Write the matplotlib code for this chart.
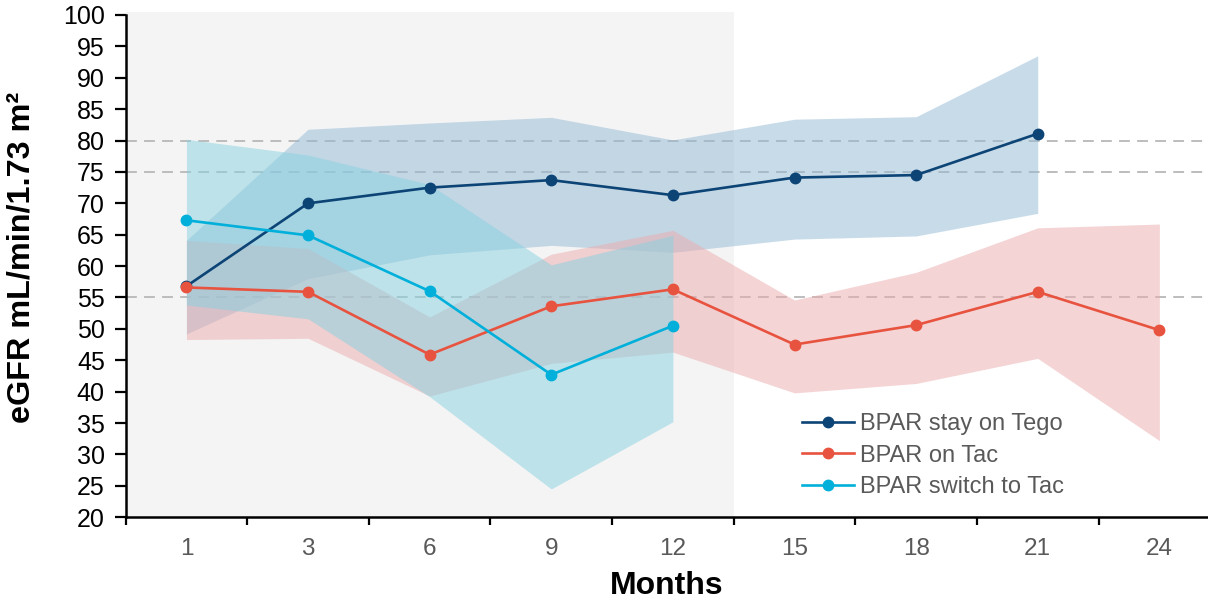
import numpy as np
import matplotlib
matplotlib.use("Agg")
import matplotlib.pyplot as plt
from matplotlib.patches import Rectangle

plt.rcParams["font.family"] = ["Liberation Sans", "DejaVu Sans"]

# -----------------------------
# Data
# -----------------------------
months = ["1", "3", "6", "9", "12", "15", "18", "21", "24"]

tego_mean = [56.8, 70.0, 72.5, 73.7, 71.3, 74.1, 74.5, 81.1]
tego_low = [49.2, 58.0, 61.8, 63.3, 62.2, 64.3, 64.8, 68.4]
tego_high = [64.1, 81.8, 82.8, 83.7, 80.1, 83.4, 83.8, 93.5]

tac_mean = [56.6, 55.9, 45.9, 53.6, 56.3, 47.5, 50.6, 55.9, 49.8]
tac_low = [48.3, 48.5, 39.3, 44.5, 46.3, 39.8, 41.3, 45.3, 32.2]
tac_high = [64.1, 62.8, 51.9, 61.9, 65.7, 54.6, 59.0, 66.1, 66.7]

switch_mean = [67.3, 64.9, 56.0, 42.7, 50.5]
switch_low = [53.8, 51.6, 39.2, 24.5, 35.2]
switch_high = [80.2, 77.7, 73.0, 60.2, 64.9]

ref_lines = [80, 75, 55]

# -----------------------------
# Styling
# -----------------------------
tego_color = "#0c4476"
tac_color = "#e8533f"
switch_color = "#00b0da"

fig = plt.figure(figsize=(12.08, 6.0), dpi=100)
ax = fig.add_axes([0.104, 0.138, 0.896, 0.837])

x_tego = np.arange(len(tego_mean))
x_tac = np.arange(len(tac_mean))
x_switch = np.arange(len(switch_mean))

# shaded first-year region
ax.add_patch(Rectangle((-0.5, 20), 5.0, 80.5, facecolor="#f4f4f4",
                       edgecolor="none", zorder=0, clip_on=False))

for v in ref_lines:
    ax.axhline(v, color="#b8b8b8", lw=1.3, ls=(0, (6, 4)), zorder=1)

# confidence bands
ax.fill_between(x_tego, tego_low, tego_high, color="#93b9d5", alpha=0.5,
                lw=0, zorder=2)
ax.fill_between(x_tac, tac_low, tac_high, color="#ebabad", alpha=0.5,
                lw=0, zorder=2)
ax.fill_between(x_switch, switch_low, switch_high, color="#87d1e1",
                alpha=0.5, lw=0, zorder=2)

# mean lines
ax.plot(x_tego, tego_mean, color=tego_color, lw=1.9, marker="o", ms=7.5,
        label="BPAR stay on Tego", zorder=4)
ax.plot(x_tac, tac_mean, color=tac_color, lw=1.9, marker="o", ms=7.5,
        label="BPAR on Tac", zorder=4)
ax.plot(x_switch, switch_mean, color=switch_color, lw=1.9, marker="o", ms=7.5,
        label="BPAR switch to Tac", zorder=4)

# -----------------------------
# Axes
# -----------------------------
ax.set_xlim(-0.5, 8.4)
ax.set_ylim(20, 100)
ax.set_yticks(np.arange(20, 101, 5))
ax.tick_params(axis="y", labelsize=18, length=8, width=1.6, pad=7,
               labelcolor="black")

ax.set_xticks(x_tac)
ax.set_xticklabels(months)
ax.set_xticks(np.arange(-0.5, 8.5, 1), minor=True)
ax.tick_params(axis="x", which="major", length=0, labelsize=17.5,
               labelcolor="#595959", pad=15)
ax.tick_params(axis="x", which="minor", length=6, width=1.6)

for side in ["top", "right"]:
    ax.spines[side].set_visible(False)
for side in ["left", "bottom"]:
    ax.spines[side].set_linewidth(1.8)
ax.patch.set_alpha(0)

ax.set_xlabel("Months", fontsize=23, fontweight="bold", labelpad=8)
ax.set_ylabel("eGFR mL/min/1.73 m²", fontsize=23.3, fontweight="bold")
ax.yaxis.set_label_coords(-0.0823, 0.517)

ax.legend(loc="upper left", bbox_to_anchor=(0.625, 0.207), frameon=False,
          fontsize=17, labelcolor="#595959", handlelength=2.2,
          handletextpad=0.25, labelspacing=0.4, borderpad=0,
          borderaxespad=0)

fig.savefig("out.png", dpi=100)
